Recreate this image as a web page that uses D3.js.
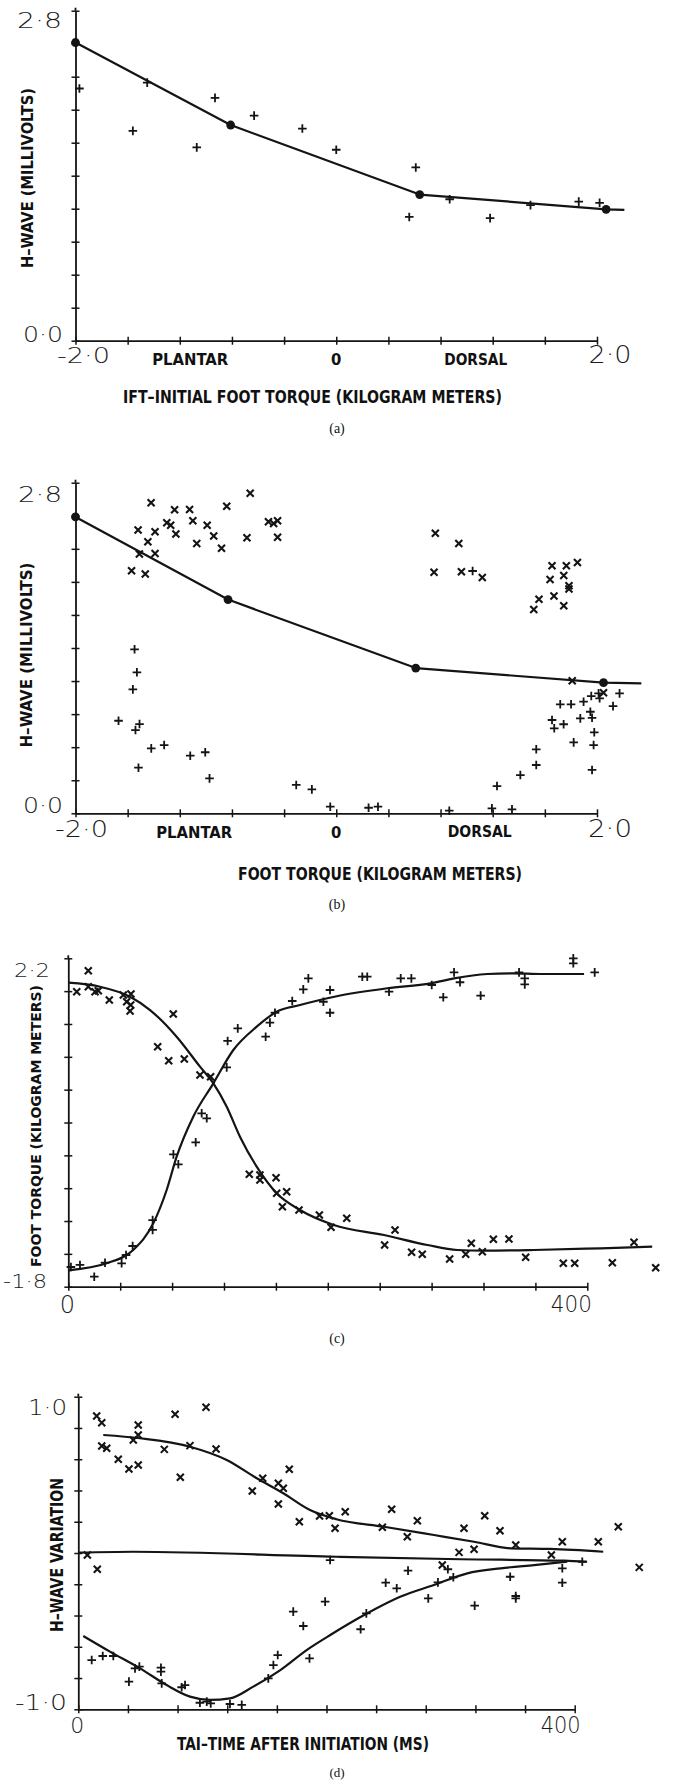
<!DOCTYPE html>
<html>
<head>
<meta charset="utf-8">
<script src="https://cdn.jsdelivr.net/npm/d3@7"></script>
<style>
  body { margin: 0; background: #fff; }
  .num { font-family: "DejaVu Sans", sans-serif; font-weight: 200; fill: #1a1a1a; }
  .lbl { font-family: "Liberation Sans Narrow", "DejaVu Sans Condensed", sans-serif; font-weight: bold; fill: #111; }
  .cap { font-family: "Liberation Serif", serif; fill: #111; }
</style>
</head>
<body>
<svg id="fig" width="674" height="1780"></svg>
<script>
// ---- data ----
// (a) H-wave vs initial foot torque
const aLineX = [-2.0, -0.81, 0.64, 2.07, 2.21]
const aLineY = [2.53, 1.83, 1.24, 1.115, 1.11]
const aDots = [[-2.0, 2.53], [-0.81, 1.83], [0.64, 1.24], [2.07, 1.115]]
const aPlus = [[-1.97, 2.14], [-1.45, 2.19], [-1.56, 1.78], [-0.93, 2.06], [-1.07, 1.64], [-0.63, 1.91],
  [-0.26, 1.80], [0.0, 1.62], [0.61, 1.47], [0.56, 1.05], [0.87, 1.20], [1.18, 1.04], [1.49, 1.15],
  [1.86, 1.18], [2.02, 1.17]]

// (b) H-wave vs foot torque
const bLineX = [-2.0, -0.83, 0.61, 2.05, 2.34]
const bLineY = [2.51, 1.81, 1.23, 1.106, 1.10]
const bDots = [[-2.0, 2.51], [-0.83, 1.81], [0.61, 1.23], [2.05, 1.106]]
const bCross = [[-1.42, 2.63], [-0.66, 2.71], [-1.52, 2.40], [-1.39, 2.385], [-1.445, 2.30], [-1.51, 2.196],
  [-1.39, 2.20], [-1.57, 2.054], [-1.465, 2.026], [-1.30, 2.46], [-1.27, 2.44], [-1.24, 2.57], [-1.23, 2.365],
  [-1.125, 2.574], [-1.10, 2.478], [-1.07, 2.286], [-0.99, 2.44], [-0.94, 2.348], [-0.88, 2.244], [-0.84, 2.60],
  [-0.685, 2.334], [-0.52, 2.47], [-0.48, 2.455], [-0.45, 2.478], [-0.45, 2.337],
  [0.76, 2.371], [0.94, 2.286], [0.75, 2.041], [0.96, 2.046], [1.12, 1.998], [1.655, 2.097], [1.765, 2.097],
  [1.85, 2.125], [1.64, 1.981], [1.745, 2.015], [1.785, 1.927], [1.785, 1.899], [1.67, 1.84], [1.555, 1.812],
  [1.515, 1.727], [1.745, 1.758], [1.81, 1.123], [2.05, 1.021]]
const bPlus = [[-1.547, 1.389], [-1.529, 1.194], [-1.56, 1.05], [-1.67, 0.784], [-1.509, 0.756], [-1.54, 0.705],
  [-1.419, 0.55], [-1.32, 0.578], [-1.12, 0.488], [-1.005, 0.517], [-1.517, 0.386], [-0.972, 0.296],
  [-0.307, 0.24], [-0.187, 0.203], [-0.046, 0.056], [0.248, 0.047], [0.32, 0.056], [0.867, 0.022],
  [1.046, 2.052], [1.194, 0.042], [1.348, 0.034], [1.233, 0.231], [1.412, 0.324], [1.534, 0.409],
  [1.534, 0.542], [1.655, 0.79], [1.672, 0.72], [1.744, 0.754], [1.718, 0.923], [1.801, 0.923],
  [1.821, 0.601], [1.897, 0.945], [1.872, 0.804], [1.956, 0.993], [1.949, 0.86], [1.962, 0.809],
  [1.979, 0.686], [1.974, 0.578], [1.962, 0.367], [2.02, 0.974], [2.123, 0.908], [2.173, 1.016], [2.012, 1.016]]

// (c) foot torque vs time
const cRiseT = [0, 29.6, 50, 65.5, 75.8, 83.5, 96.3, 111.8, 127.2, 145.2, 160.6, 178.6, 206, 245.9, 279.3, 297.3, 322.9, 343.5, 364.1, 397.5]
const cRiseV = [-1.60, -1.515, -1.353, -1.028, -0.622, -0.216, 0.271, 0.677, 1.083, 1.367, 1.55, 1.631, 1.735, 1.835, 1.895, 1.956, 2.009, 2.017, 2.009, 2.009]
const cFallT = [0, 24.4, 47.6, 63, 83.5, 101.5, 111.8, 122.1, 132.3, 145.2, 160.6, 178.6, 204.5, 243.3, 276.7, 299.8, 320.4, 358.9, 410.3, 450]
const cFallV = [1.903, 1.854, 1.732, 1.57, 1.245, 0.88, 0.677, 0.392, 0.027, -0.338, -0.662, -0.866, -1.048, -1.17, -1.292, -1.353, -1.361, -1.353, -1.332, -1.313]
const cPlus = [[2, -1.56], [9, -1.535], [20, -1.678], [28.3, -1.508], [41.1, -1.515], [44.5, -1.414], [49.6, -1.304],
  [65, -0.988], [65, -1.109], [81, -0.188], [84.8, -0.309], [98.2, -0.041], [102.8, 0.312], [106.7, 0.251],
  [122.1, 0.872], [122.8, 1.193], [130.6, 1.347], [152.1, 1.245], [155.4, 1.416], [159.3, 1.537], [172.6, 1.68],
  [181.1, 1.822], [185, 1.956], [201.7, 1.814], [201.7, 1.537], [196.6, 1.671], [226.6, 1.976], [230.4, 1.976],
  [247.2, 1.793], [256.2, 1.956], [264.4, 1.956], [280.1, 1.875], [289, 1.725], [297.3, 2.029], [301.9, 1.908],
  [317.8, 1.745], [347.4, 2.029], [351.8, 1.956], [351.8, 1.883], [389.2, 2.2], [389.2, 2.139], [405.7, 2.029]]
const cCross = [[15.4, 2.049], [6.5, 1.793], [15.4, 1.854], [20.6, 1.793], [23.1, 1.806], [31.6, 1.692], [42.4, 1.753],
  [45, 1.671], [48.3, 1.765], [47.6, 1.558], [48.1, 1.631], [80.9, 1.521], [68.9, 1.124], [77.4, 0.953],
  [89.4, 0.973], [101.5, 0.779], [109.7, 0.758], [139.5, -0.431], [147.7, -0.439], [147.7, -0.5], [160.1, -0.472],
  [160.6, -0.662], [168.3, -0.643], [165, -0.826], [177.8, -0.866], [193.5, -0.927], [202.5, -1.077],
  [214.6, -0.967], [251.8, -1.109], [243.8, -1.292], [264.6, -1.381], [272.8, -1.406], [293.9, -1.463],
  [306.3, -1.406], [310.6, -1.271], [319.1, -1.374], [327.6, -1.223], [339.6, -1.219], [352.5, -1.442],
  [381.5, -1.515], [390.3, -1.515], [419.3, -1.508], [436, -1.259], [452.7, -1.569]]

// (d) H-wave variation vs time
const dUpT = [20.1, 49.7, 90, 119.6, 143.8, 165.2, 186.7, 208, 246.3, 286.6, 318.9, 348.4, 380.6, 423]
const dUpV = [0.755, 0.734, 0.68, 0.595, 0.478, 0.382, 0.275, 0.216, 0.168, 0.115, 0.072, 0.03, 0.026, 0.008]
const dMidT = [0, 44, 208, 308.1, 391.4, 410]
const dMidV = [0.002, 0.008, -0.024, -0.04, -0.049, -0.056]
const dLowT = [4, 25.5, 49.7, 71.2, 90, 106.1, 122.2, 141, 162.8, 184, 204, 232.9, 259.8, 286.6, 313.5, 340.4, 367.2, 394]
const dLowV = [-0.531, -0.631, -0.738, -0.845, -0.919, -0.94, -0.93, -0.855, -0.749, -0.621, -0.52, -0.386, -0.279, -0.205, -0.13, -0.098, -0.077, -0.056]
const dCross = [[14.8, 0.877], [18.9, 0.834], [18.9, 0.685], [22.9, 0.67], [32.2, 0.6], [40.8, 0.537], [48.3, 0.563],
  [44.3, 0.723], [48.3, 0.819], [48.3, 0.755], [69.3, 0.663], [78, 0.887], [82.2, 0.484], [90, 0.687],
  [102.9, 0.932], [111, 0.665], [140.2, 0.397], [148.6, 0.478], [161.2, 0.446], [165.2, 0.414], [161.2, 0.313],
  [170, 0.536], [178.1, 0.2], [194.4, 0.237], [202.3, 0.239], [206.9, 0.158], [7.3, -0.013], [15.3, -0.104],
  [215.1, 0.264], [245, 0.164], [252.5, 0.28], [265.1, 0.104], [273.2, 0.207], [310.8, 0.158], [327.5, 0.239],
  [339.8, 0.143], [352.5, 0.051], [390, 0.072], [419, 0.072], [435.1, 0.168], [452, -0.092], [306.8, 0.004],
  [318.9, 0.024], [293.3, -0.077], [381.2, -0.013]]
const dPlus = [[10.8, -0.685], [19.7, -0.659], [28.2, -0.659], [40.8, -0.823], [45.7, -0.738], [49.2, -0.727],
  [66.6, -0.734], [66.6, -0.759], [67.2, -0.834], [83.3, -0.859], [86, -0.845], [98, -0.958], [103.5, -0.951],
  [106.7, -0.962], [122.2, -0.966], [131.7, -0.972], [153.1, -0.802], [157.2, -0.717], [160.7, -0.653],
  [173.2, -0.375], [181.3, -0.467], [186.3, -0.674], [198.9, -0.311], [202.9, -0.045], [227.5, -0.488],
  [232.1, -0.386], [247.7, -0.19], [256.6, -0.226], [265.7, -0.113], [282, -0.29], [289.8, -0.188],
  [297.8, -0.104], [302.2, -0.155], [319.4, -0.337], [348, -0.152], [352.5, -0.275], [352.5, -0.29],
  [390, -0.098], [390, -0.19], [406.1, -0.056]]

// tick values
const torqueTicks = d3.range(-2, 2.001, 0.4)
const hTicks = d3.range(0, 2.801, 0.28)
const timeTicks = d3.range(0, 400.1, 40)
const cTicks = d3.range(-1.8, 2.201, 0.4)
const dTicks = d3.range(-1, 1.001, 0.2)

const ink = '#141414'
const svg = d3.select('#fig')

function axes(x, y, xt, yt) {
  const g = svg.append('g')
  const xa = g.append('g').attr('transform', `translate(0,${y.range()[0]})`)
    .call(d3.axisBottom(x).tickValues(xt).tickSize(4).tickSizeOuter(0).tickFormat(''))
  xa.selectAll('.tick line').attr('y1', -4).attr('y2', 4)
  const ya = g.append('g').attr('transform', `translate(${x.range()[0]},0)`)
    .call(d3.axisLeft(y).tickValues(yt).tickSize(4).tickSizeOuter(0).tickFormat(''))
  ya.selectAll('.tick line').attr('x1', 4).attr('x2', -4)
  g.selectAll('.domain').attr('stroke', ink).attr('stroke-width', 1.8)
  g.selectAll('.tick line').attr('stroke', ink).attr('stroke-width', 1.5)
  // small stub above the top tick
  g.append('line').attr('x1', x.range()[0]).attr('x2', x.range()[0])
    .attr('y1', y.range()[1] - 3).attr('y2', y.range()[1]).attr('stroke', ink).attr('stroke-width', 1.8)
}

function curve(x, y, xs, ys, kind) {
  const pts = xs.map((v, i) => [v, ys[i]])
  svg.append('path').datum(pts)
    .attr('fill', 'none').attr('stroke', ink).attr('stroke-width', 2.2)
    .attr('stroke-linejoin', 'round')
    .attr('d', d3.line().x(d => x(d[0])).y(d => y(d[1])).curve(kind))
}

function marks(x, y, data, shape) {
  const d = shape === 'plus' ? 'M-4.3,0H4.3M0,-4.3V4.3' : 'M-3.5,-3.5L3.5,3.5M3.5,-3.5L-3.5,3.5'
  svg.append('g').selectAll('path').data(data).join('path')
    .attr('d', d).attr('stroke', ink).attr('stroke-width', shape === 'plus' ? 1.8 : 2.1)
    .attr('fill', 'none')
    .attr('transform', p => `translate(${x(p[0])},${y(p[1])})`)
}

function dots(x, y, data) {
  svg.append('g').selectAll('circle').data(data).join('circle')
    .attr('cx', p => x(p[0])).attr('cy', p => y(p[1])).attr('r', 4.4).attr('fill', ink)
}

function txt(cls, s, px, py, size, len, anchor, rot) {
  const t = svg.append('text').attr('class', cls).text(s)
    .attr('font-size', size).attr('text-anchor', anchor || 'middle')
  if (len) t.attr('textLength', len).attr('lengthAdjust', 'spacingAndGlyphs')
  if (rot) t.attr('transform', `translate(${px},${py}) rotate(-90)`)
  else t.attr('x', px).attr('y', py)
  return t
}

// ---------- (a) ----------
const xA = d3.scaleLinear().domain([-2, 2]).range([75.5, 597])
const yA = d3.scaleLinear().domain([0, 2.8]).range([340.7, 10.7])
axes(xA, yA, torqueTicks, hTicks)
curve(xA, yA, aLineX, aLineY, d3.curveLinear)
dots(xA, yA, aDots)
marks(xA, yA, aPlus, 'plus')
txt('num', '2·8', 62, 28, 21, 45, 'end')
txt('num', '0·0', 63, 342, 21, 40, 'end')
txt('num', '-2·0', xA(-2) + 8, 363, 22, 53)
txt('num', '2·0', xA(2) + 13, 363, 24, 43)
txt('lbl', 'PLANTAR', xA(-1.12), 365, 16.5, 76)
txt('lbl', '0', xA(0), 365, 16.5)
txt('lbl', 'DORSAL', xA(1.07), 365, 16.5, 63)
txt('lbl', 'IFT–INITIAL FOOT TORQUE (KILOGRAM METERS)', 312.5, 403, 17.5, 379)
txt('lbl', 'H–WAVE (MILLIVOLTS)', 33, 178, 15, 180, 'middle', true)
txt('cap', '(a)', 337, 433, 14)

// ---------- (b) ----------
const xB = d3.scaleLinear().domain([-2, 2]).range([75.5, 597])
const yB = d3.scaleLinear().domain([0, 2.8]).range([813.3, 482.7])
axes(xB, yB, torqueTicks, hTicks)
curve(xB, yB, bLineX, bLineY, d3.curveLinear)
dots(xB, yB, bDots)
marks(xB, yB, bCross, 'cross')
marks(xB, yB, bPlus, 'plus')
txt('num', '2·8', 62, 502, 21, 44, 'end')
txt('num', '0·0', 63, 813, 21, 40, 'end')
txt('num', '-2·0', xB(-2) + 6, 837, 23, 53)
txt('num', '2·0', xB(2) + 13, 837, 24, 44)
txt('lbl', 'PLANTAR', xB(-1.09), 838, 16.5, 76)
txt('lbl', '0', xB(0), 838, 16.5)
txt('lbl', 'DORSAL', xB(1.10), 837, 16.5, 64)
txt('lbl', 'FOOT TORQUE (KILOGRAM METERS)', 380, 880, 17.5, 284)
txt('lbl', 'H–WAVE (MILLIVOLTS)', 32, 655, 15, 185, 'middle', true)
txt('cap', '(b)', 337, 909, 14)

// ---------- (c) ----------
const xC = d3.scaleLinear().domain([0, 400]).range([68.3, 587.3])
const yC = d3.scaleLinear().domain([-1.8, 2.2]).range([1286.7, 958.3])
axes(xC, yC, timeTicks, cTicks)
curve(xC, yC, cRiseT, cRiseV, d3.curveMonotoneX)
curve(xC, yC, cFallT, cFallV, d3.curveMonotoneX)
marks(xC, yC, cPlus, 'plus')
marks(xC, yC, cCross, 'cross')
txt('num', '2·2', 50, 977, 20, 36, 'end')
txt('num', '-1·8', 47, 1288, 19, 44, 'end')
txt('num', '0', xC(0) - 1, 1313, 24)
txt('num', '400', xC(400) - 16, 1312, 23, 41)
txt('lbl', 'FOOT TORQUE (KILOGRAM METERS)', 41, 1126, 14.5, 282, 'middle', true)
txt('cap', '(c)', 337, 1343, 14)

// ---------- (d) ----------
const xD = d3.scaleLinear().domain([0, 400]).range([78.3, 574.7])
const yD = d3.scaleLinear().domain([-1, 1]).range([1709.3, 1396.7])
axes(xD, yD, timeTicks, dTicks)
curve(xD, yD, dUpT, dUpV, d3.curveMonotoneX)
curve(xD, yD, dMidT, dMidV, d3.curveMonotoneX)
curve(xD, yD, dLowT, dLowV, d3.curveMonotoneX)
marks(xD, yD, dCross, 'cross')
marks(xD, yD, dPlus, 'plus')
txt('num', '1·0', 67, 1415, 21, 39, 'end')
txt('num', '-1·0', 67, 1710, 21, 52, 'end')
txt('num', '0', xD(0) - 1, 1733, 22)
txt('num', '400', xD(400) - 14, 1733, 23, 40)
txt('lbl', 'TAI–TIME AFTER INITIATION (MS)', 303, 1750, 17.5, 252)
txt('lbl', 'H–WAVE VARIATION', 63, 1555, 17, 154, 'middle', true)
txt('cap', '(d)', 337, 1777, 13)
</script>
</body>
</html>
